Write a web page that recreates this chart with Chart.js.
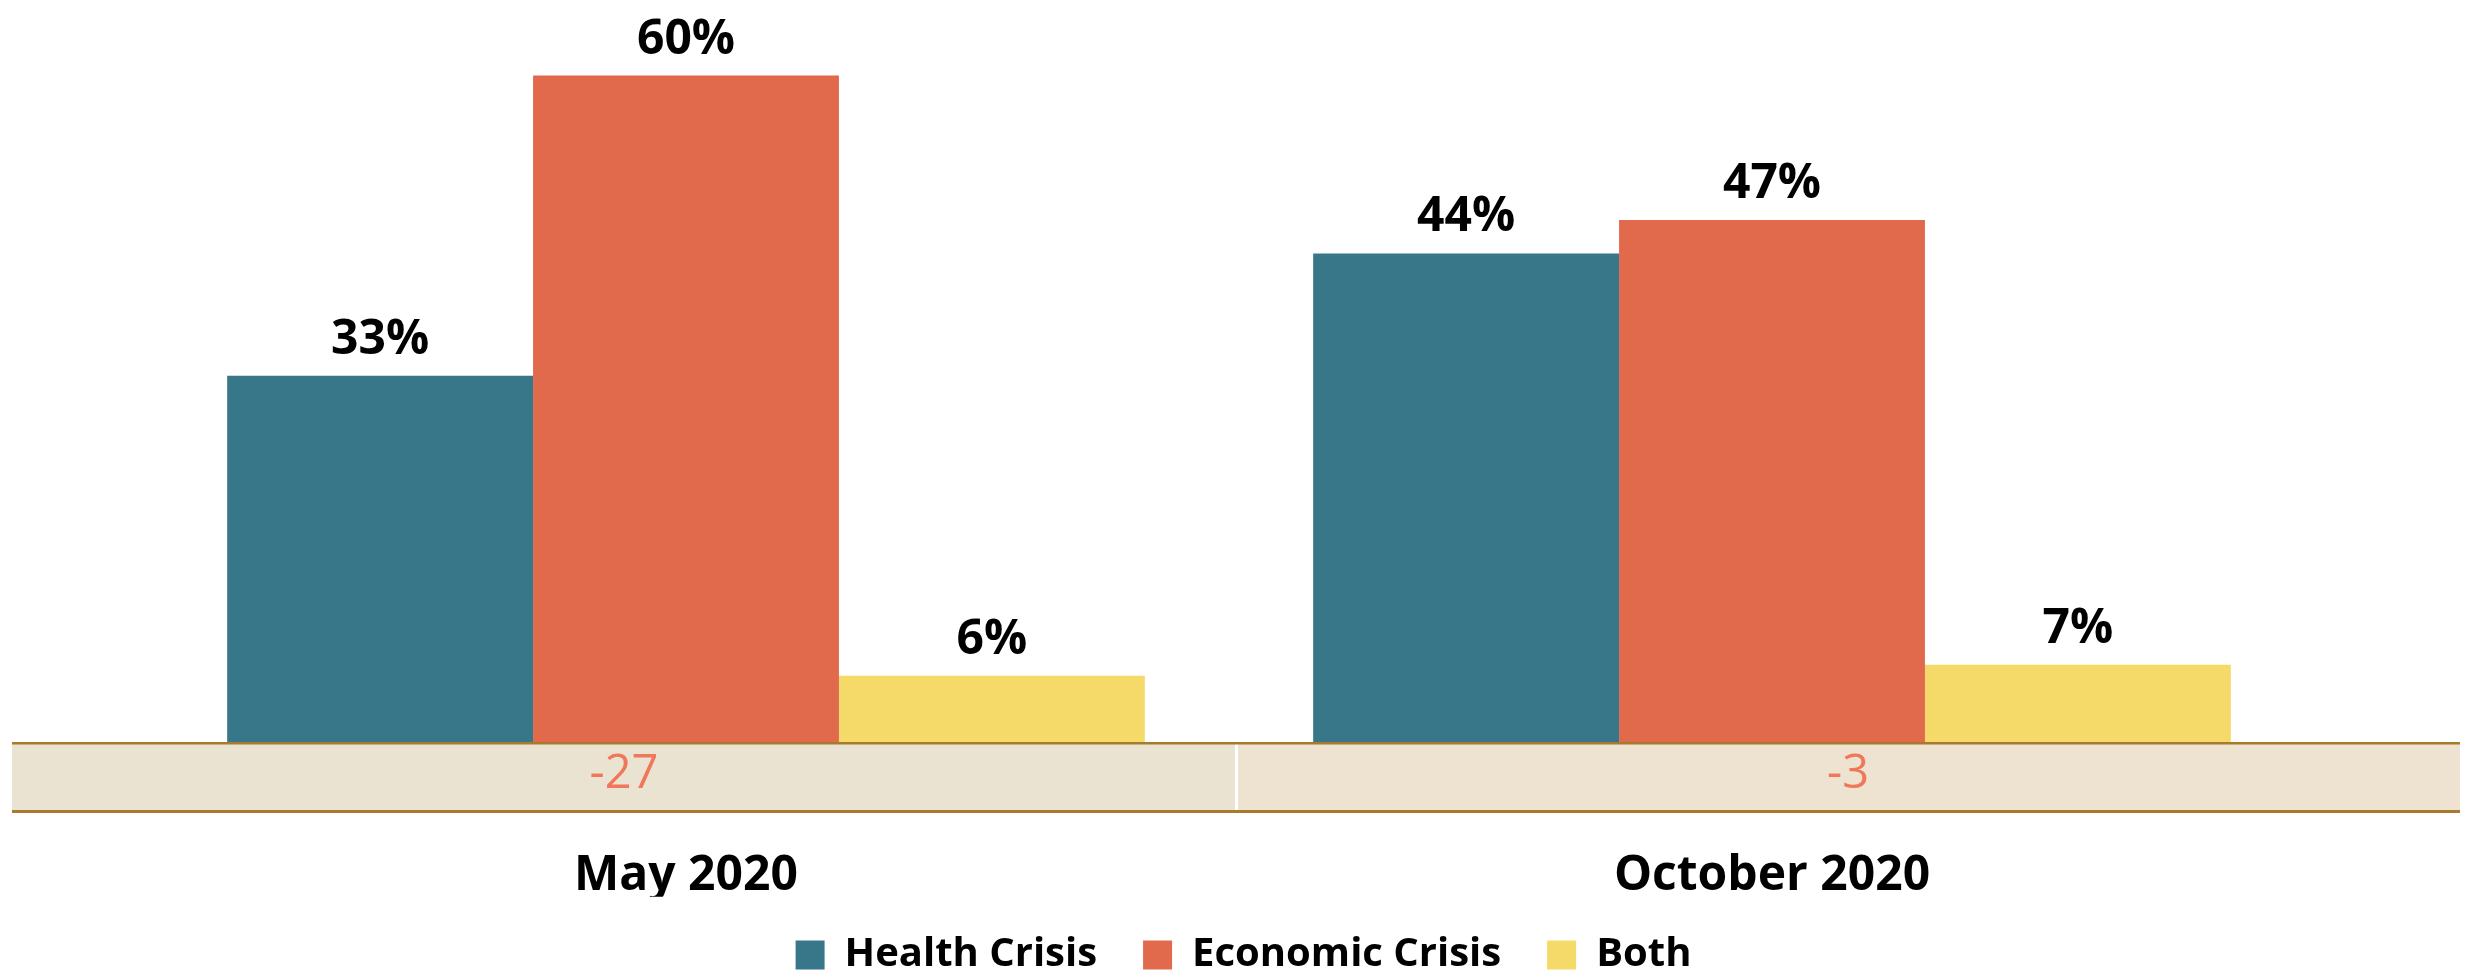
<!DOCTYPE html>
<html>
<head>
<meta charset="utf-8">
<script src="https://cdn.jsdelivr.net/npm/chart.js@4.4.1/dist/chart.umd.min.js"></script>
<style>
  html, body { margin: 0; padding: 0; background: #ffffff; overflow: hidden; }
  #wrap { width: 2473px; height: 975px; position: relative; }
  canvas { display: block; }
</style>
</head>
<body>
<div id="wrap"><canvas id="c" width="2473" height="975"></canvas></div>
<script>
// ---- data ----
const categories = ['May 2020', 'October 2020'];
const seriesNames = ['Health Crisis', 'Economic Crisis', 'Both'];
const healthCrisis = [33, 44];
const economicCrisis = [60, 47];
const bothCrisis = [6, 7];
const netLabels = ['-27', '-3'];

// ---- styles ----
const seriesColors = ['#377789', '#E16A4D', '#F5DA6A'];
const FONT = "'Open Sans', 'Liberation Sans', sans-serif";

const valueLabelPlugin = {
  id: 'valueLabels',
  afterDatasetsDraw(chart) {
    const ctx = chart.ctx;
    ctx.save();
    ctx.font = "bold 48px " + FONT;
    ctx.fillStyle = '#000000';
    ctx.textAlign = 'center';
    ctx.textBaseline = 'alphabetic';
    chart.data.datasets.forEach((ds, di) => {
      const meta = chart.getDatasetMeta(di);
      meta.data.forEach((bar, i) => {
        ctx.fillText(ds.data[i] + '%', bar.x, bar.y - 22);
      });
    });
    ctx.restore();
  }
};

const bandPlugin = {
  id: 'netBand',
  afterDatasetsDraw(chart) {
    const ctx = chart.ctx;
    const base = chart.scales.y.getPixelForValue(0);
    const left = 12, right = chart.width - 13;
    const mid = (left + right) / 2;
    const top = base - 0.5, bottom = base + 70.5;
    ctx.save();
    ctx.fillStyle = '#EBE3D1';
    ctx.fillRect(left, top, mid - left, bottom - top);
    ctx.fillStyle = '#EEE2D0';
    ctx.fillRect(mid, top, right - mid, bottom - top);
    ctx.fillStyle = '#FFFFFF';
    ctx.fillRect(mid - 1, top, 3, bottom - top);
    ctx.fillStyle = '#A87B2C';
    ctx.fillRect(left, top, right - left, 2.5);
    ctx.fillRect(left, bottom - 3, right - left, 3);
    ctx.font = "47px " + FONT;
    ctx.fillStyle = '#F0775A';
    ctx.textAlign = 'center';
    ctx.textBaseline = 'alphabetic';
    netLabels.forEach((t, i) => {
      const cx = i === 0 ? (left + mid) / 2 : (mid + right) / 2;
      ctx.fillText(t, cx, base + 45.5);
    });
    ctx.restore();
  }
};

// centre the legend on the page and place it just below the category labels
const legendPlacePlugin = {
  id: 'legendPlace',
  afterLayout(chart) {
    const l = chart.legend;
    if (!l) return;
    const h = l.height;
    l.left = 7;
    l.right = chart.width + 7;
    l.top = chart.chartArea.bottom + 146.5;
    l.bottom = l.top + h;
  }
};

new Chart(document.getElementById('c'), {
  type: 'bar',
  data: {
    labels: categories,
    datasets: [
      { label: seriesNames[0], data: healthCrisis, backgroundColor: seriesColors[0] },
      { label: seriesNames[1], data: economicCrisis, backgroundColor: seriesColors[1] },
      { label: seriesNames[2], data: bothCrisis, backgroundColor: seriesColors[2] }
    ]
  },
  options: {
    responsive: false,
    animation: false,
    devicePixelRatio: 1,
    layout: { padding: { left: 143, right: 158, top: 20, bottom: -17.8 } },
    datasets: { bar: { categoryPercentage: 0.845, barPercentage: 1.0, borderWidth: 0 } },
    scales: {
      x: {
        grid: { display: false },
        border: { display: false },
        ticks: {
          color: '#000000',
          padding: 96.7,
          font: { family: FONT, weight: 'bold', size: 48 }
        },
        afterFit(scale) { scale.height = 154.3; }
      },
      y: {
        display: false,
        min: 0,
        max: 65
      }
    },
    plugins: {
      legend: {
        position: 'bottom',
        labels: {
          color: '#000000',
          boxWidth: 29,
          boxHeight: 29,
          padding: 46,
          font: { family: FONT, weight: 'bold', size: 40 }
        }
      },
      tooltip: { enabled: false }
    }
  },
  plugins: [valueLabelPlugin, bandPlugin, legendPlacePlugin]
});
</script>
</body>
</html>
